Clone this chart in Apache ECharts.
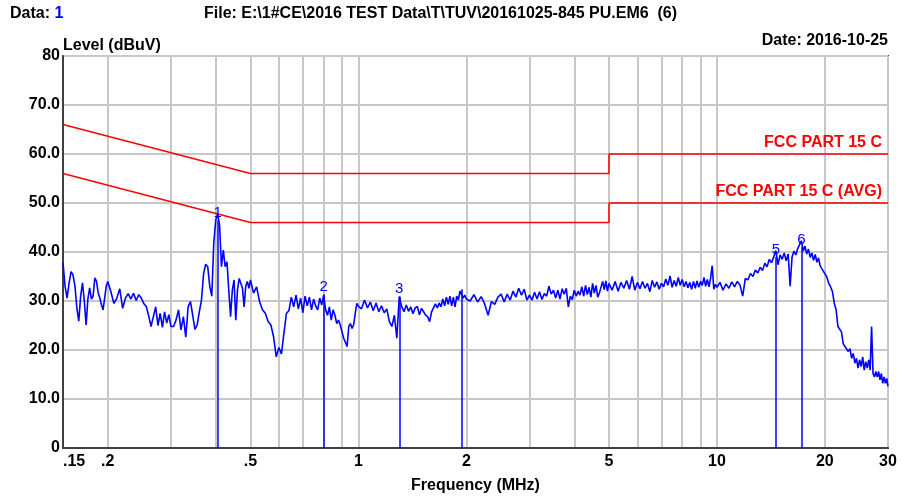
<!DOCTYPE html>
<html>
<head>
<meta charset="utf-8">
<title>Conducted emission scan</title>
<script src="https://cdn.jsdelivr.net/npm/echarts@6/dist/echarts.min.js"></script>
<style>
  html, body { margin: 0; padding: 0; background: #fff; }
  #chart { width: 904px; height: 497px; }
</style>
</head>
<body>
<div id="chart"></div>
<script>
// Scan bands: each band is a linear frequency sweep (MHz) with its measured levels (dBuV)
const bandStart = [0.150, 0.204, 0.305, 0.405, 0.51, 1.02, 2.05, 5.1, 10.2, 20.25];
const bandStep  = [0.002, 0.004, 0.005, 0.005, 0.01, 0.02, 0.05, 0.1, 0.2, 0.25];

const levelsA = [37.8, 33.0, 30.6, 33.7, 36.0, 35.3, 33.0, 28.5, 25.9, 31.0, 33.7, 30.0, 25.1,
                 30.4, 32.7, 30.4, 31.0, 34.7, 34.0, 31.7, 30.6, 29.3, 28.2, 30.6, 33.0, 34.0];
const levelsB = [31.9, 29.5, 30.6, 32.5, 28.5, 30.6, 31.5, 30.4, 31.6, 30.1, 31.3, 30.6, 29.5,
                 28.9, 27.0, 24.8, 26.8, 28.8, 25.0, 27.5, 24.6, 27.8, 25.5, 27.2, 24.8];
const levelsC = [24.8, 26.1, 28.2, 24.1, 26.8, 22.6, 28.8, 29.9, 27.1, 24.2, 25.1, 27.8, 30.2,
                 35.6, 37.5, 37.0, 33.0, 31.0, 41.8, 46.5];
const levelsD = [47.8, 45.5, 37.0, 40.4, 37.0, 38.0, 32.2, 26.8, 32.2, 34.3, 26.1, 32.2, 34.6,
                 34.8, 32.6, 28.8, 33.0, 34.0, 32.6, 34.3];
const levelsE = [31.6, 32.9, 29.9, 28.2, 27.5, 25.8, 25.1, 22.7, 18.6, 20.5,
                 19.2, 23.5, 27.5, 28.0, 30.8, 28.8, 31.2, 28.4, 30.6, 27.6,
                 31.0, 29.0, 30.8, 28.2, 30.4, 29.0, 28.2, 30.6, 29.2, 31.2,
                 28.2, 27.1, 28.8, 26.1, 28.2, 27.1, 25.4, 26.1, 25.1, 23.7,
                 22.4, 22.0, 20.7, 24.8, 25.4, 24.4, 25.1, 27.5, 29.5, 28.9];
const levelsF = [28.4, 30.2, 28.6, 29.8, 28.0, 29.6, 27.8, 29.0, 27.6, 28.4,
                 25.8, 24.8, 27.1, 22.4, 30.9, 28.9, 27.8, 29.2, 27.9, 28.8,
                 27.4, 28.6, 28.9, 27.2, 28.5, 27.8, 27.1, 26.8, 25.8, 27.8,
                 27.9, 29.4, 28.6, 29.6, 28.8, 30.4, 29.0, 30.8, 29.3, 31.0,
                 29.0, 30.8, 28.8, 31.0, 30.2, 32.0, 32.4, 30.6, 31.2, 30.4];
const levelsG = [30.0, 31.3, 29.8, 30.9, 29.4, 27.1, 29.9, 29.3, 30.8, 31.4,
                 29.8, 31.4, 30.2, 32.0, 30.8, 32.6, 31.2, 32.4, 30.2, 31.2,
                 30.2, 31.8, 30.4, 31.9, 30.3, 31.5, 31.0, 33.0, 31.4, 32.2,
                 30.6, 32.2, 30.4, 32.5, 31.4, 32.6, 28.8, 31.0, 30.3, 32.2,
                 31.0, 32.0, 31.2, 32.9, 31.0, 33.2, 31.3, 32.8, 30.8, 33.6,
                 31.6, 33.2, 30.8, 31.6, 32.0, 34.0, 32.3, 34.1, 32.0, 33.6];
const levelsH = [32.2, 34.0, 32.0, 33.8, 32.6, 34.2, 32.4, 35.0, 32.2, 33.8,
                 32.5, 34.0, 32.6, 33.6, 31.9, 34.2, 32.8, 33.9, 32.4, 33.6,
                 32.9, 34.5, 33.2, 35.1, 32.8, 34.2, 33.0, 34.8, 33.2, 34.4,
                 32.9, 34.0, 32.7, 33.8, 32.4, 34.0, 32.6, 34.1, 32.8, 34.0,
                 33.2, 34.8, 33.0, 34.4, 32.9, 34.6, 37.2, 32.4, 33.4, 32.8];
const levelsI = [33.8, 32.2, 33.5, 32.6, 33.9, 32.9, 34.0, 33.2, 31.0, 34.6,
                 34.3, 35.6, 35.0, 36.3, 35.7, 36.9, 36.2, 37.7, 37.0, 38.5,
                 37.8, 39.0, 40.3, 37.4, 39.4, 38.5, 39.8, 38.2, 39.6, 33.0,
                 39.0, 40.2, 39.4, 40.7, 41.5, 42.3, 40.2, 41.2, 39.6, 40.6,
                 38.9, 39.8, 38.3, 39.5, 37.9, 38.8, 37.2, 36.6, 37.0, 35.6];
const levelsJ = [34.9, 33.6, 32.9, 31.9, 29.5, 28.2, 24.8, 24.4, 23.7, 21.3,
                 20.7, 21.0, 19.7, 20.3, 18.3, 19.3, 17.3, 18.3, 16.3, 18.0,
                 16.6, 18.6, 15.9, 17.6, 16.3, 18.0, 15.9, 24.8, 15.2, 14.5,
                 15.6, 14.5, 15.6, 13.9, 15.2, 13.2, 14.5, 13.2, 14.2, 12.6];
const bandLevels = [levelsA, levelsB, levelsC, levelsD, levelsE, levelsF, levelsG, levelsH, levelsI, levelsJ];

// Limit lines (FCC Part 15 C conducted, QP and AVG)
const qpLimitFreq  = [0.15, 0.5, 5, 5, 30];
const qpLimitLevel = [66, 56, 56, 60, 60];
const avLimitFreq  = [0.15, 0.5, 5, 5, 30];
const avLimitLevel = [56, 46, 46, 50, 50];

// Peak markers
const markerFreq   = [0.405, 0.80, 1.30, 1.94, 14.6, 17.2];
const markerLevel  = [46.5, 31.4, 30.9, 32.4, 39.0, 41.0];
const markerLabels = ['1', '2', '3', '', '5', '6'];

// Axis ticks
const tickFreq   = [0.15, 0.2, 0.5, 1, 2, 5, 10, 20, 30];
const tickLabels = ['.15', '.2', '.5', '1', '2', '5', '10', '20', '30'];
const gridFreq   = [0.2, 0.3, 0.4, 0.5, 0.6, 0.7, 0.8, 0.9, 1, 2, 3, 4, 5, 6, 7, 8, 9, 10, 20, 30];

const FONT = '"Liberation Sans", Arial, sans-serif';

const trace = [];
bandLevels.forEach((lv, b) => {
  lv.forEach((v, i) => {
    trace.push([+(bandStart[b] + i * bandStep[b]).toFixed(4), v]);
  });
});
const zip = (xs, ys) => xs.map((x, i) => [x, ys[i]]);

const chart = echarts.init(document.getElementById('chart'), null, { renderer: 'canvas' });

const bold16 = { fontFamily: FONT, fontWeight: 'bold', fontSize: 16, color: '#000' };
const limitLabel = { show: true, position: 'top', align: 'right', distance: 3, offset: [-6, 0],
                     fontFamily: FONT, fontWeight: 'bold', fontSize: 16, color: '#ff0000' };

chart.setOption({
  animation: false,
  backgroundColor: '#fff',
  title: [
    { text: '{a|Data: }{b|1}', left: 10, top: 6, padding: 0,
      textStyle: { rich: { a: bold16, b: Object.assign({}, bold16, { color: '#0000ff' }) } } },
    { text: 'File: E:\\1#CE\\2016 TEST Data\\T\\TUV\\20161025-845 PU.EM6  (6)', left: 204, top: 6, padding: 0,
      textStyle: bold16 },
    { text: 'Date: 2016-10-25', right: 16, top: 33, padding: 0, textStyle: bold16 },
    { text: 'Level (dBuV)', left: 63, top: 38, padding: 0, textStyle: bold16 }
  ],
  grid: {
    left: 63, right: 16, top: 56, bottom: 49,
    outerBoundsMode: 'none', containLabel: false,
    show: true, borderColor: '#404040', borderWidth: 2, backgroundColor: '#fff'
  },
  xAxis: {
    type: 'log', logBase: 10, min: 0.15, max: 30,
    name: 'Frequency (MHz)', nameLocation: 'middle', nameGap: 30,
    nameTextStyle: bold16,
    axisLine: { show: true, lineStyle: { color: '#404040', width: 2 } },
    axisTick: { show: false, customValues: gridFreq },
    splitLine: { show: true, lineStyle: { color: '#c8c8c8', width: 2 } },
    axisLabel: Object.assign({}, bold16, {
      customValues: tickFreq, margin: 6, alignMinLabel: 'left',
      formatter: v => {
        const i = tickFreq.findIndex(t => Math.abs(t - v) < 1e-6);
        return i >= 0 ? tickLabels[i] : '';
      }
    })
  },
  yAxis: {
    type: 'value', min: 0, max: 80, interval: 10,
    axisLine: { show: true, lineStyle: { color: '#404040', width: 2 } },
    axisTick: { show: false },
    splitLine: { show: true, lineStyle: { color: '#c8c8c8', width: 2 } },
    axisLabel: Object.assign({}, bold16, {
      margin: 3,
      formatter: v => (v === 0 || v === 80) ? String(v) : v.toFixed(1)
    })
  },
  series: [
    {
      name: 'FCC PART 15 C', type: 'line', data: zip(qpLimitFreq, qpLimitLevel),
      showSymbol: false, silent: true, z: 3,
      lineStyle: { color: '#ff0000', width: 1.5 },
      markPoint: {
        symbol: 'circle', symbolSize: 0, silent: true,
        data: [{ coord: [qpLimitFreq[4], qpLimitLevel[4]] }],
        label: Object.assign({ formatter: 'FCC PART 15 C' }, limitLabel)
      }
    },
    {
      name: 'FCC PART 15 C (AVG)', type: 'line', data: zip(avLimitFreq, avLimitLevel),
      showSymbol: false, silent: true, z: 3,
      lineStyle: { color: '#ff0000', width: 1.5 },
      markPoint: {
        symbol: 'circle', symbolSize: 0, silent: true,
        data: [{ coord: [avLimitFreq[4], avLimitLevel[4]] }],
        label: Object.assign({ formatter: 'FCC PART 15 C (AVG)' }, limitLabel)
      }
    },
    {
      name: 'Level', type: 'line', data: trace,
      showSymbol: false, sampling: null, silent: true, z: 4,
      lineStyle: { color: '#0000ff', width: 1.6 },
      markLine: {
        silent: true, symbol: ['none', 'none'], animation: false,
        lineStyle: { color: '#0000ff', width: 1.5, type: 'solid' },
        label: {
          show: true, position: 'end', distance: 0,
          fontFamily: FONT, fontSize: 15, color: '#0000ff',
          formatter: p => markerLabels[p.dataIndex]
        },
        emphasis: { disabled: true },
        data: markerFreq.map((f, i) => [{ coord: [f, 0] }, { coord: [f, markerLevel[i]] }])
      }
    }
  ]
});
</script>
</body>
</html>
